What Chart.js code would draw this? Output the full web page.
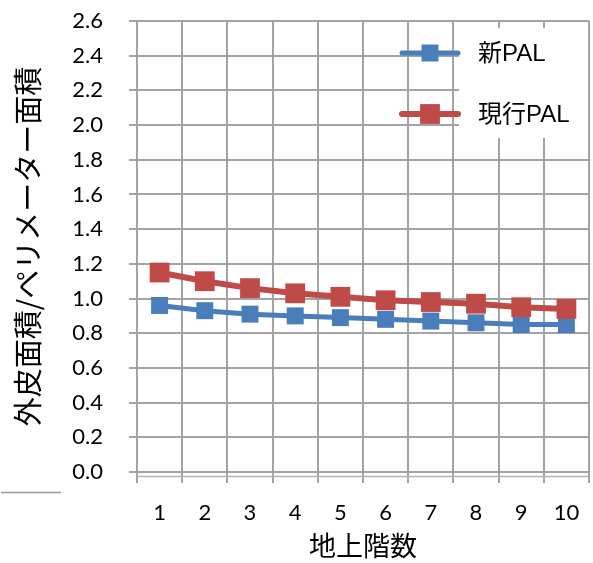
<!DOCTYPE html>
<html>
<head>
<meta charset="utf-8">
<script src="https://cdn.jsdelivr.net/npm/chart.js@4/dist/chart.umd.min.js"></script>
<style>
  html, body { margin: 0; padding: 0; background: #fff; }
  #wrap { width: 593px; height: 563px; }
</style>
</head>
<body>
<div id="wrap"><canvas id="c" width="593" height="563"></canvas></div>
<script>
// Floors above ground
const floors = ['1', '2', '3', '4', '5', '6', '7', '8', '9', '10'];
// Envelope area / perimeter-zone area ratio per floor count
const newPal = [0.96, 0.93, 0.91, 0.90, 0.89, 0.88, 0.87, 0.86, 0.85, 0.85];
const currentPal = [1.15, 1.10, 1.06, 1.03, 1.01, 0.99, 0.98, 0.97, 0.95, 0.94];
const seriesNames = ['新PAL', '現行PAL'];
const yTitle = '外皮面積/ペリメーター面積';
const xTitle = '地上階数';

const GRID = '#a3a3a3';
const TITLE_FONT = '"Noto Sans CJK JP", "Noto Sans", sans-serif';
const TICK_FONT = 'Lato, "Liberation Sans", sans-serif';

// Legend drawn inside the plot: line sample with marker, then a white label box
const insideLegend = {
  id: 'insideLegend',
  afterDatasetsDraw(chart) {
    const ctx = chart.ctx;
    ctx.save();
    // white label panel
    ctx.fillStyle = '#ffffff';
    ctx.fillRect(459, 28, 129, 110);
    const rows = [53, 114];
    chart.data.datasets.forEach((ds, i) => {
      const y = rows[i];
      ctx.strokeStyle = ds.borderColor;
      ctx.lineWidth = ds.borderWidth;
      ctx.lineCap = 'round';
      ctx.beginPath();
      ctx.moveTo(402, y);
      ctx.lineTo(458, y);
      ctx.stroke();
      const s = ds.pointRadius * Math.SQRT2;
      ctx.fillStyle = ds.pointBackgroundColor;
      ctx.fillRect(430 - s / 2, y - s / 2, s, s);
      ctx.fillStyle = '#000';
      ctx.font = '24px "Liberation Sans", "Noto Sans CJK JP", sans-serif';
      ctx.textBaseline = 'middle';
      ctx.textAlign = 'left';
      ctx.fillText(ds.label, 478, y + 1);
    });
    ctx.restore();
  },
  afterDraw(chart) {
    const ctx = chart.ctx;
    const a = chart.chartArea;
    ctx.save();
    ctx.strokeStyle = '#b5b5b5';
    ctx.lineWidth = 1.5;
    // second rule just under the category axis
    ctx.beginPath();
    ctx.moveTo(a.left, a.bottom + 4.5);
    ctx.lineTo(a.right, a.bottom + 4.5);
    ctx.stroke();
    // short rule at the lower left
    ctx.strokeStyle = '#9c9c9c';
    ctx.beginPath();
    ctx.moveTo(1, 492.5);
    ctx.lineTo(61, 492.5);
    ctx.stroke();
    ctx.restore();
  }
};

new Chart(document.getElementById('c'), {
  type: 'line',
  data: {
    labels: floors,
    datasets: [
      {
        label: seriesNames[0],
        data: newPal,
        borderColor: '#4a7ebb',
        backgroundColor: '#4a7ebb',
        pointBackgroundColor: '#4a7ebb',
        pointBorderWidth: 0,
        borderWidth: 5,
        pointStyle: 'rect',
        pointRadius: 12,
        order: 1
      },
      {
        label: seriesNames[1],
        data: currentPal,
        borderColor: '#be4b48',
        backgroundColor: '#be4b48',
        pointBackgroundColor: '#be4b48',
        pointBorderWidth: 0,
        borderWidth: 6,
        pointStyle: 'rect',
        pointRadius: 14,
        order: 0
      }
    ]
  },
  options: {
    responsive: false,
    animation: false,
    layout: { autoPadding: false, padding: { top: 21, right: 4, left: 0, bottom: 0 } },
    plugins: {
      legend: { display: false },
      tooltip: { enabled: false }
    },
    scales: {
      x: {
        type: 'category',
        offset: true,
        afterFit(s) { s.height = 91; s.paddingLeft = 0; s.paddingRight = 0; },
        grid: {
          offset: true,
          color: GRID,
          lineWidth: 2,
          drawTicks: true,
          tickLength: 11,
          tickColor: GRID
        },
        border: { color: GRID, width: 2 },
        ticks: {
          color: '#000',
          padding: 17,
          maxRotation: 0,
          font: { family: TICK_FONT, size: 22 }
        },
        title: {
          display: true,
          text: xTitle,
          color: '#000',
          padding: { top: 0, bottom: 1 },
          font: { family: TITLE_FONT, size: 27, lineHeight: 1.2 }
        }
      },
      y: {
        min: 0,
        max: 2.6,
        afterFit(s) { s.width = 137; s.paddingTop = 0; s.paddingBottom = 0; },
        grid: {
          color: GRID,
          lineWidth: 2,
          drawTicks: true,
          tickLength: 8,
          tickColor: GRID
        },
        border: { color: GRID, width: 2 },
        ticks: {
          stepSize: 0.2,
          color: '#000',
          padding: 26,
          font: { family: TICK_FONT, size: 22 },
          callback: (v) => Number(v).toFixed(1)
        },
        title: {
          display: true,
          text: yTitle,
          color: '#000',
          padding: { top: 11, bottom: 0 },
          font: { family: TITLE_FONT, size: 29, lineHeight: 1.2 }
        }
      }
    }
  },
  plugins: [insideLegend]
});
</script>
</body>
</html>
